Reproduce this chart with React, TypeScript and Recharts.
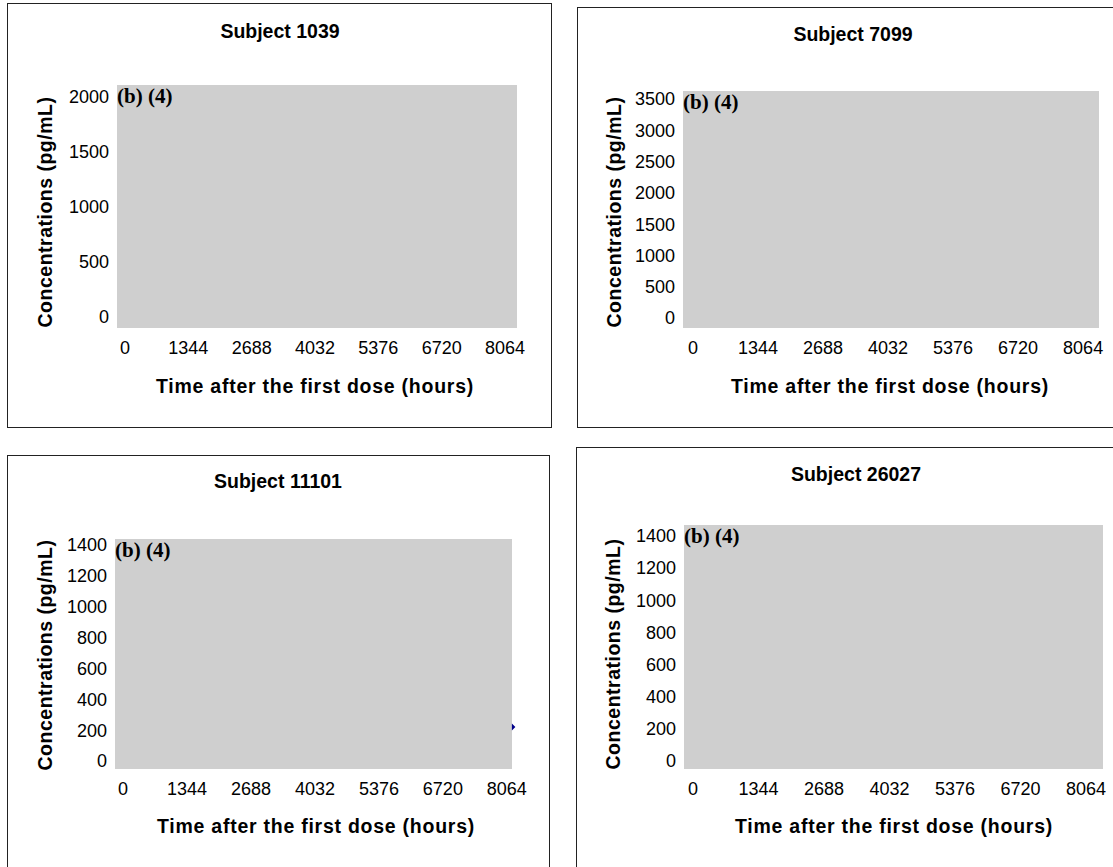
import React from 'react';
import { ScatterChart, Scatter, XAxis, YAxis, CartesianGrid } from 'recharts';

// values
const subjects = ['1039', '7099', '11101', '26027'];
const xTicks = [0, 1344, 2688, 4032, 5376, 6720, 8064];
const yTicks1039 = [0, 500, 1000, 1500, 2000];
const yTicks7099 = [0, 500, 1000, 1500, 2000, 2500, 3000, 3500];
const yTicks11101 = [0, 200, 400, 600, 800, 1000, 1200, 1400];
const yTicks26027 = [0, 200, 400, 600, 800, 1000, 1200, 1400];
// only point left visible next to the redaction box
const points1039: { time: number; conc: number }[] = [];
const points7099: { time: number; conc: number }[] = [];
const points11101 = [{ time: 8170, conc: 220 }];
const points26027: { time: number; conc: number }[] = [];

const FONT = '"Liberation Sans", Arial, sans-serif';
const GREY = '#cfcfcf';

interface PanelLayout {
    box: [number, number, number, number]; // left, top, width, height
    plot: [number, number, number, number]; // left, top, right, bottom (page px)
    xDomain: [number, number];
    yDomain: [number, number];
    title: [number, number];
    yTitle: [number, number];
    xTitle: [number, number];
}

const layouts: PanelLayout[] = [
    { box: [7, 3, 545, 425], plot: [117, 85, 517, 328], xDomain: [-170, 8318], yDomain: [-100, 2109], title: [280, 32], yTitle: [46, 212], xTitle: [315, 387] },
    { box: [577, 7, 545, 421], plot: [683, 91, 1099, 328], xDomain: [-205, 8392], yDomain: [-160, 3628], title: [853, 35], yTitle: [615, 212], xTitle: [890, 387] },
    { box: [7, 455, 543, 425], plot: [115, 539, 512, 769], xDomain: [-168, 8172], yDomain: [-52, 1439], title: [278, 482], yTitle: [46, 655], xTitle: [316, 827] },
    { box: [576, 447, 545, 425], plot: [684, 525, 1103, 769], xDomain: [-185, 8413], yDomain: [-50, 1468], title: [856, 475], yTitle: [614, 654], xTitle: [894, 827] },
];

const yTickSets = [yTicks1039, yTicks7099, yTicks11101, yTicks26027];
const pointSets = [points1039, points7099, points11101, points26027];

const Y_W = 60;
const X_H = 30;

// marker sits half under the grey box, so only the right half of the diamond shows
const HalfDiamond = (props: any) => {
    const { cx, cy } = props;
    if (cx == null || cy == null) return null;
    return <path d={`M${cx},${cy - 3.5}L${cx + 3.5},${cy}L${cx},${cy + 3.5}Z`} fill="#00008b" />;
};

const centered = (x: number, y: number, extra: React.CSSProperties = {}): React.CSSProperties => ({
    position: 'absolute',
    left: x,
    top: y,
    transform: 'translate(-50%, -50%)',
    whiteSpace: 'nowrap',
    fontFamily: FONT,
    fontWeight: 'bold',
    color: '#000',
    lineHeight: 1,
    ...extra,
});

const Panel: React.FC<{ idx: number }> = ({ idx }) => {
    const l = layouts[idx];
    const [bx, by, bw, bh] = l.box;
    const [pl, pt, pr, pb] = l.plot;
    const margin = {
        left: pl - bx - Y_W,
        top: pt - by,
        right: bx + bw - pr,
        bottom: by + bh - pb - X_H,
    };
    const tickStyle = { fontSize: 18, fill: '#000', fontFamily: FONT };
    // empty panels need the fixed domain forced; the one with a point must not clip it
    const fixed = pointSets[idx].length === 0;
    return (
        <>
            <div style={{ position: 'absolute', left: bx, top: by, width: bw, height: bh, boxSizing: 'border-box', border: '1.5px solid #222' }} />
            <div style={{ position: 'absolute', left: bx, top: by }}>
                <ScatterChart width={bw} height={bh} margin={margin}>
                    <CartesianGrid fill={GREY} horizontal={false} vertical={false} />
                    <XAxis
                        type="number"
                        dataKey="time"
                        domain={l.xDomain}
                        ticks={xTicks}
                        interval={0}
                        allowDataOverflow={fixed}
                        axisLine={false}
                        tickLine={false}
                        tickSize={0}
                        tickMargin={13}
                        height={X_H}
                        tick={tickStyle}
                    />
                    <YAxis
                        type="number"
                        dataKey="conc"
                        domain={l.yDomain}
                        ticks={yTickSets[idx]}
                        interval={0}
                        allowDataOverflow={fixed}
                        axisLine={false}
                        tickLine={false}
                        tickSize={0}
                        tickMargin={8}
                        width={Y_W}
                        tick={tickStyle}
                    />
                    <Scatter data={pointSets[idx]} shape={HalfDiamond} isAnimationActive={false} />
                </ScatterChart>
            </div>
            <div style={centered(l.title[0], l.title[1], { fontSize: 19.5 })}>Subject {subjects[idx]}</div>
            <div style={centered(l.yTitle[0], l.yTitle[1], { fontSize: 19.5, letterSpacing: 0.5, transform: 'translate(-50%, -50%) rotate(-90deg)' })}>
                Concentrations (pg/mL)
            </div>
            <div style={centered(l.xTitle[0], l.xTitle[1], { fontSize: 19.5, letterSpacing: 0.75 })}>Time after the first dose (hours)</div>
            <div style={{ position: 'absolute', left: pl, top: pt + 1, fontFamily: '"Liberation Serif", "Times New Roman", serif', fontWeight: 'bold', fontSize: 21, lineHeight: 1, color: '#000' }}>
                (b) (4)
            </div>
        </>
    );
};

export default function App() {
    return (
        <div style={{ position: 'absolute', left: 0, top: 0, width: 1113, height: 867, overflow: 'hidden', background: '#fff' }}>
            {subjects.map((s, i) => (
                <Panel key={s} idx={i} />
            ))}
        </div>
    );
}
